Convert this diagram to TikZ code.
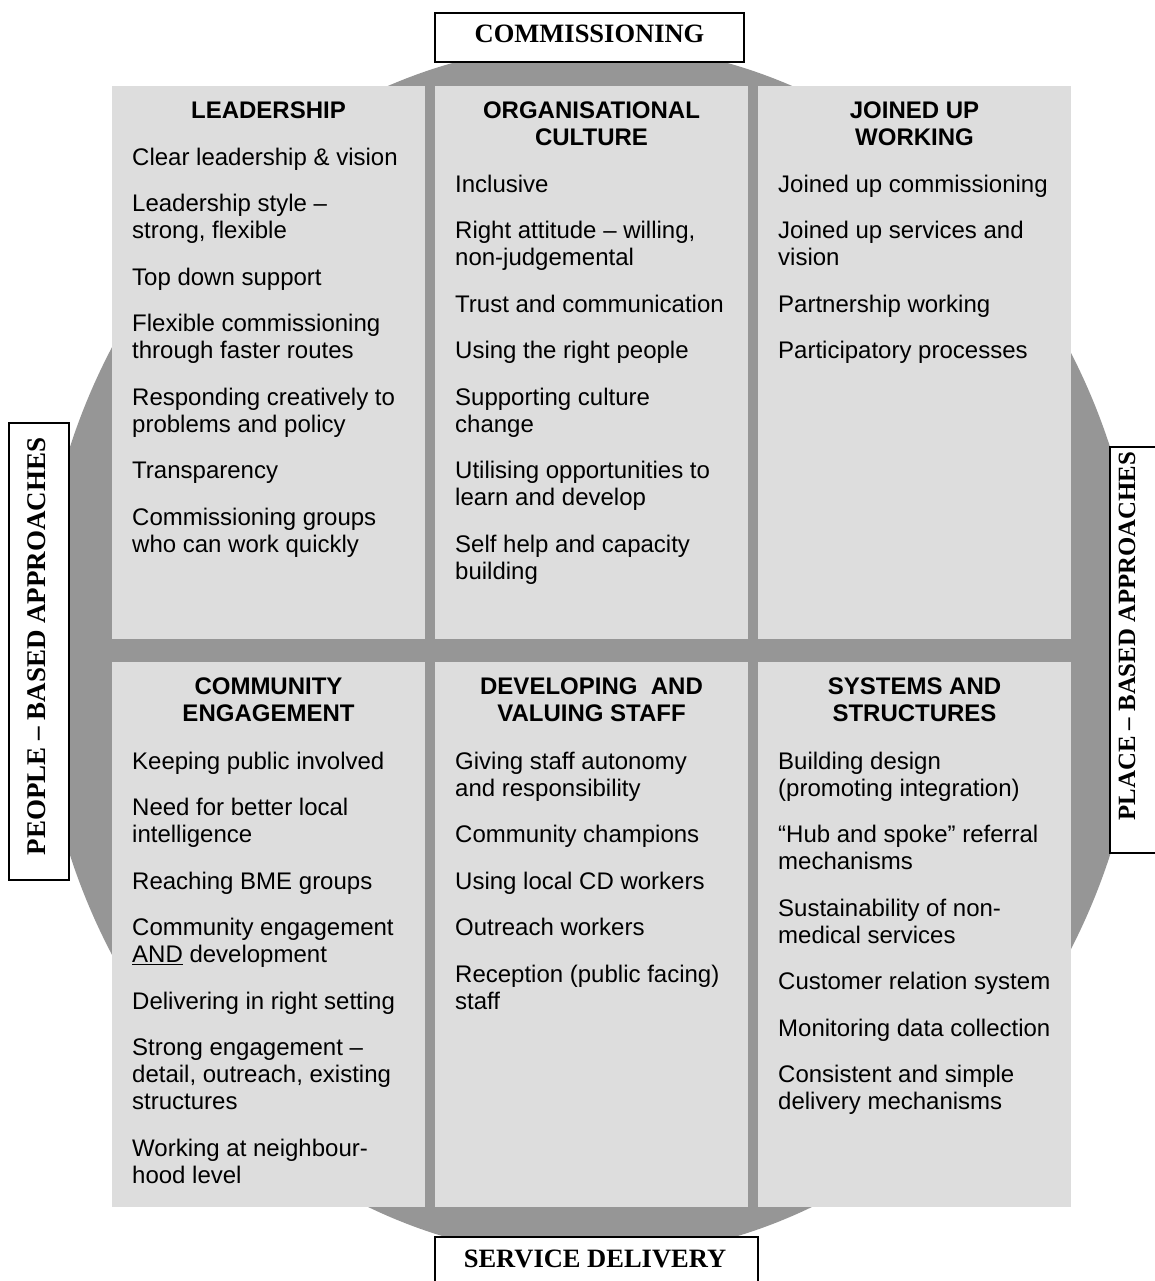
\documentclass[tikz,border=0pt]{standalone}
\usepackage{fontspec}
\setmainfont{Liberation Serif}
\newfontfamily\arialf{Liberation Sans}
\definecolor{ringc}{HTML}{969696}
\definecolor{panelc}{HTML}{DDDDDD}
\newcommand\topstrut{\rule{0pt}{24pt}}
\begin{document}
\begin{tikzpicture}[x=1pt,y=-1pt,
  panel/.style={fill=panelc, draw=none, inner sep=0pt, anchor=north west},
  head/.style={font=\arialf\bfseries\fontsize{24}{27}\selectfont, align=center, anchor=north, inner sep=0pt},
  body/.style={font=\arialf\fontsize{24}{27}\selectfont, align=left, anchor=north west, inner sep=0pt},
  labelbox/.style={draw=black, line width=1.4pt, fill=white, inner sep=0pt},
  labeltext/.style={font=\bfseries\fontsize{26.5}{30}\selectfont, inner sep=0pt}
]
\useasboundingbox (0,0) rectangle (1154,1281);
\fill[ringc] (590,651) ellipse [x radius=552pt, y radius=607pt];

% panels
\node[panel, minimum width=313pt, minimum height=553pt] (p11) at (112,86) {};
\node[panel, minimum width=313pt, minimum height=553pt] (p12) at (435,86) {};
\node[panel, minimum width=313pt, minimum height=553pt] (p13) at (758,86) {};
\node[panel, minimum width=313pt, minimum height=545pt] (p21) at (112,662) {};
\node[panel, minimum width=313pt, minimum height=545pt] (p22) at (435,662) {};
\node[panel, minimum width=313pt, minimum height=545pt] (p23) at (758,662) {};

% headings (first baseline = y + 24)
\node[head] (h11) at (268.5,94) {\topstrut LEADERSHIP};
\node[head] (h12) at (591.5,94) {\topstrut ORGANISATIONAL\\CULTURE};
\node[head] (h13) at (914.5,94) {\topstrut JOINED UP\\WORKING};
\node[head] (h21) at (268.5,670) {\topstrut COMMUNITY\\ENGAGEMENT};
\node[head] (h22) at (591.5,670) {\topstrut DEVELOPING\ \ AND\\VALUING STAFF};
\node[head] (h23) at (914.5,670) {\topstrut SYSTEMS AND\\STRUCTURES};

% bodies (first baseline = y + 24)
\node[body] (b11) at (132,141) {\topstrut Clear leadership \& vision\\[19.5pt]
Leadership style –\\strong, flexible\\[19.5pt]
Top down support\\[19.5pt]
Flexible commissioning\\through faster routes\\[19.5pt]
Responding creatively to\\problems and policy\\[19.5pt]
Transparency\\[19.5pt]
Commissioning groups\\who can work quickly};

\node[body] (b12) at (455,168) {\topstrut Inclusive\\[19.5pt]
Right attitude – willing,\\non-judgemental\\[19.5pt]
Trust and communication\\[19.5pt]
Using the right people\\[19.5pt]
Supporting culture\\change\\[19.5pt]
Utilising opportunities to\\learn and develop\\[19.5pt]
Self help and capacity\\building};

\node[body] (b13) at (778,168) {\topstrut Joined up commissioning\\[19.5pt]
Joined up services and\\vision\\[19.5pt]
Partnership working\\[19.5pt]
Participatory processes};

\node[body] (b21) at (132,745) {\topstrut Keeping public involved\\[19.5pt]
Need for better local\\intelligence\\[19.5pt]
Reaching BME groups\\[19.5pt]
Community engagement\\\underline{AND} development\\[19.5pt]
Delivering in right setting\\[19.5pt]
Strong engagement –\\detail, outreach, existing\\structures\\[19.5pt]
Working at neighbour-\\hood level};

\node[body] (b22) at (455,745) {\topstrut Giving staff autonomy\\and responsibility\\[19.5pt]
Community champions\\[19.5pt]
Using local CD workers\\[19.5pt]
Outreach workers\\[19.5pt]
Reception (public facing)\\staff};

\node[body] (b23) at (778,745) {\topstrut Building design\\(promoting integration)\\[19.5pt]
“Hub and spoke” referral\\mechanisms\\[19.5pt]
Sustainability of non-\\medical services\\[19.5pt]
Customer relation system\\[19.5pt]
Monitoring data collection\\[19.5pt]
Consistent and simple\\delivery mechanisms};

% label boxes
\node[labelbox, minimum width=309pt, minimum height=49pt] (cbox) at (589.5,37.5) {};
\node[labeltext, anchor=base] (ctext) at (589.5,43) {COMMISSIONING};
\node[labelbox, minimum width=323pt, minimum height=63pt] (sbox) at (596.5,1268.5) {};
\node[labeltext, anchor=base] (stext) at (595,1267) {SERVICE DELIVERY};
\node[labelbox, minimum width=60pt, minimum height=457pt] (lbox) at (39,651.5) {};
\node[labeltext, font=\bfseries\fontsize{27}{30}\selectfont, rotate=90] (ltext) at (37,646.5) {PEOPLE – BASED APPROACHES};
\node[labelbox, minimum width=60pt, minimum height=406pt] (rbox) at (1140,650) {};
\node[labeltext, font=\bfseries\fontsize{24.8}{28}\selectfont, rotate=90] (rtext) at (1127,636) {PLACE – BASED APPROACHES};
\end{tikzpicture}
\end{document}
